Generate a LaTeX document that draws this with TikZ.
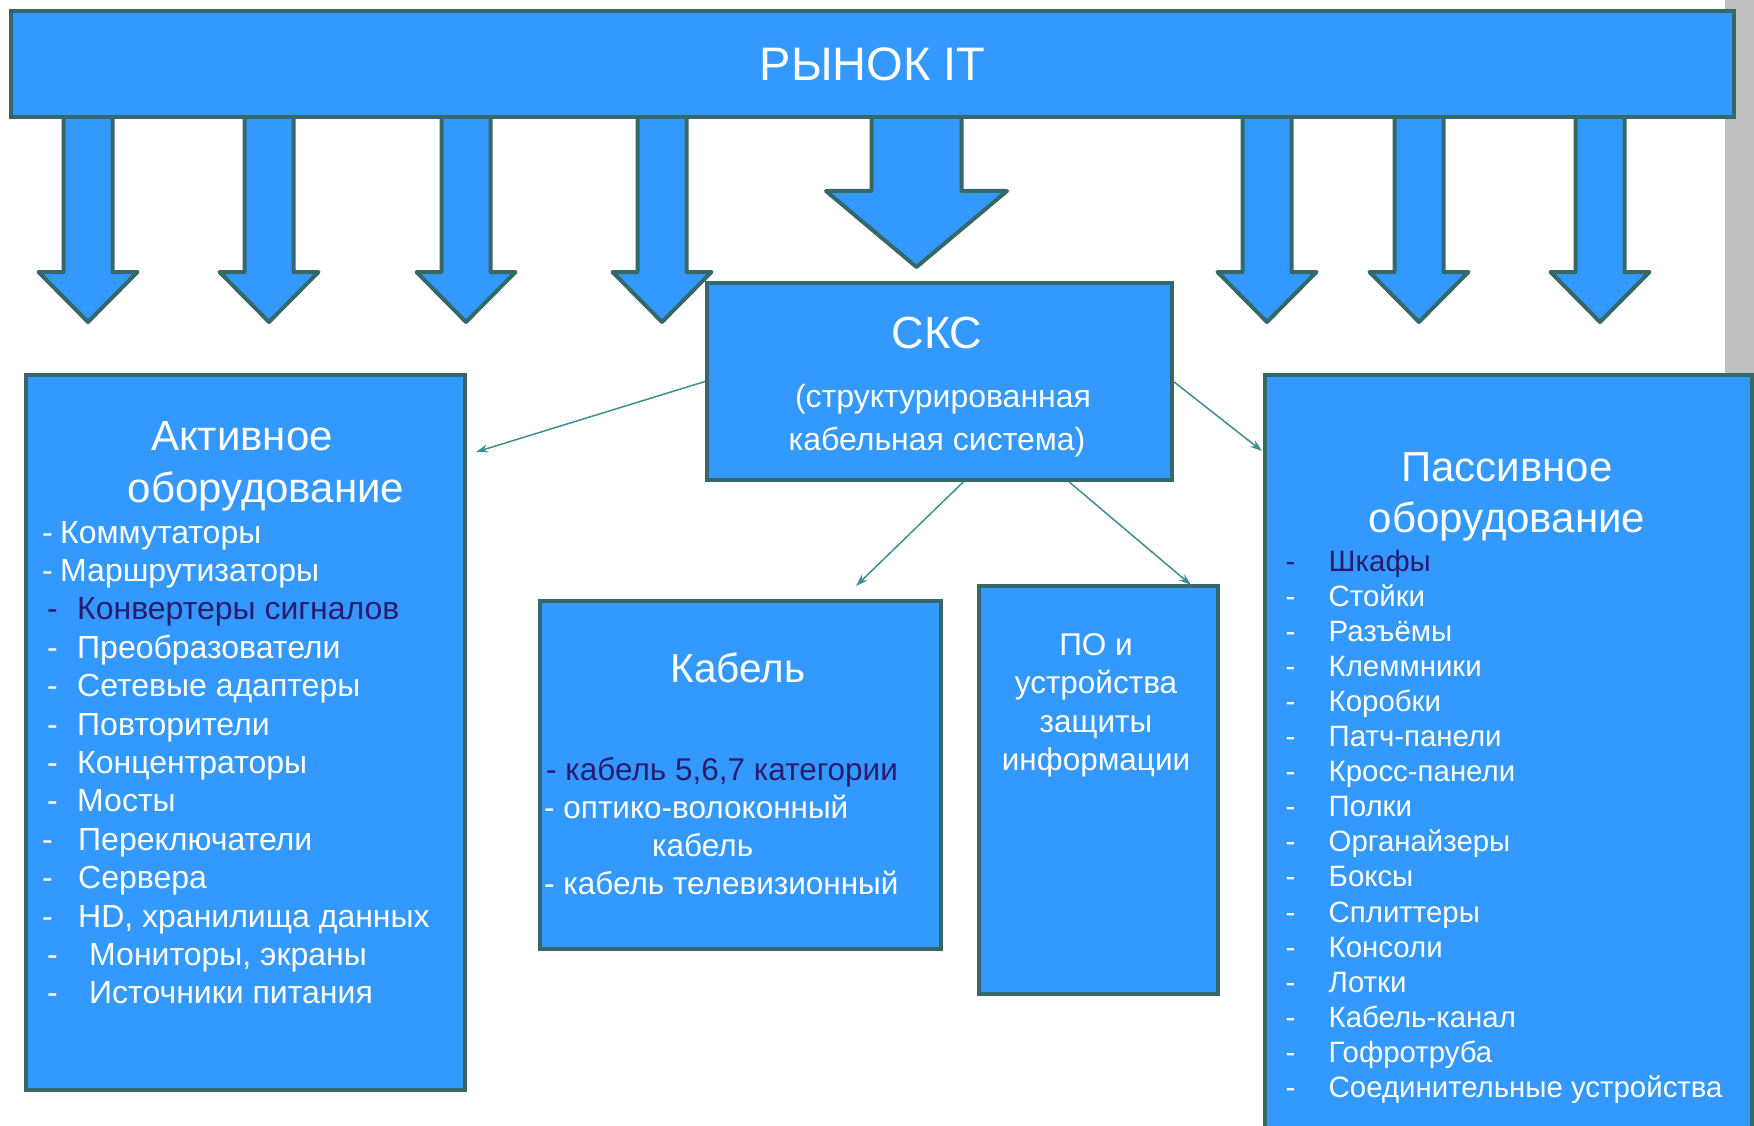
\documentclass[tikz,border=0pt]{standalone}
\usepackage{fontspec}
\setmainfont{Liberation Sans}
\usetikzlibrary{positioning, arrows.meta, calc}
\definecolor{boxfill}{HTML}{3399FF}
\definecolor{boxline}{HTML}{356868}
\definecolor{navy}{HTML}{2A1B6E}
\definecolor{linkc}{HTML}{3F8E8E}
\definecolor{strip}{HTML}{C0C0C0}

\begin{document}
\begin{tikzpicture}[
  x=1pt, y=-1pt,
  every node/.style={text=white, inner sep=0pt},
  block/.style={draw=boxline, fill=boxfill, line width=4pt, rectangle, anchor=north west},
  downarrow/.style={draw=boxline, fill=boxfill, line width=4pt, line join=round},
  item/.style={anchor=base west, font=\fontsize{32}{38}\selectfont},
  pitem/.style={anchor=base west, font=\fontsize{29.4}{35}\selectfont},
  citem/.style={anchor=base west, font=\fontsize{31.5}{38}\selectfont},
  heading/.style={anchor=base, font=\fontsize{42}{50}\selectfont},
  link/.style={-{Stealth[length=12pt, width=8pt]}, draw=linkc, line width=1.5pt}
]
  \useasboundingbox (0,0) rectangle (1754,1126);
  \clip (0,0) rectangle (1754,1126);
  \fill[strip] (1725,0) rectangle (1754,1126);

  % block arrows under the banner
  \foreach \cx in {88,269,466,662,1267,1419,1600}
    \draw[downarrow] (\cx-24.5,100) -- (\cx-24.5,272) -- (\cx-49.5,272) -- (\cx,322)
      -- (\cx+49.5,272) -- (\cx+24.5,272) -- (\cx+24.5,100) -- cycle;
  \draw[downarrow] (871.5,100) -- (871.5,191) -- (826,191) -- (916.5,267)
    -- (1007,191) -- (961.5,191) -- (961.5,100) -- cycle;

  \node[block, minimum width=1723pt, minimum height=105.5pt,
    font=\fontsize{47}{56}\selectfont] (market) at (9,9.5) {РЫНОК IT};

  % boxes
  \node[block, minimum width=464.5pt, minimum height=197pt] (sks) at (705,281) {};
  \node[block, minimum width=439pt, minimum height=715pt] (act) at (24,373) {};
  \node[block, minimum width=487pt, minimum height=767pt] (pas) at (1263,373) {};
  \node[block, minimum width=401pt, minimum height=348pt] (cab) at (538,599) {};
  \node[block, minimum width=239pt, minimum height=408pt] (po) at (977,584) {};

  % connectors
  \draw[link] (sks.west) -- ($(act.north east)+(9,79)$);
  \draw[link] (sks.east) -- ($(pas.north west)+(-1,78)$);
  \draw[link] ($(sks.south)+(24,0)$) -- ($(cab.north west)+(318,-13)$);
  \draw[link] ($(sks.south)+(130,0)$) -- ($(po.north west)+(214,1)$);

  % СКС
  \node[anchor=base, font=\fontsize{45}{54}\selectfont] (skst) at (937,348) {СКС};
  \node[anchor=base, font=\fontsize{32}{38}\selectfont] (sks1) at (943,407) {(структурированная};
  \node[anchor=base, font=\fontsize{32}{38}\selectfont] (sks2) at (937,450) {кабельная система)};

  % active equipment
  \node[heading] (acth1) at (242,450) {Активное};
  \node[heading] (acth2) at (266,502) {оборудование};
  \foreach \dx/\tx/\clr/\lbl [count=\i] in {
      42/60/white/Коммутаторы,
      42/60/white/Маршрутизаторы,
      47/77/navy/Конвертеры сигналов,
      47/77/white/Преобразователи,
      47/77/white/Сетевые адаптеры,
      47/77/white/Повторители,
      47/77/white/Концентраторы,
      47/77/white/Мосты,
      42/78/white/Переключатели,
      42/78/white/Сервера,
      42/78/white/{HD, хранилища данных},
      47/89/white/{Мониторы, экраны},
      47/89/white/Источники питания} {
    \node[item, text=\clr] (actd\i) at (\dx,{543+38.4*(\i-1)}) {-};
    \node[item, text=\clr] (acti\i) at (\tx,{543+38.4*(\i-1)}) {\lbl};
  }

  % passive equipment
  \node[heading] (pash1) at (1507,481) {Пассивное};
  \node[heading] (pash2) at (1507,532) {оборудование};
  \foreach \clr/\lbl [count=\i] in {
      navy/Шкафы, white/Стойки, white/Разъёмы, white/Клеммники,
      white/Коробки, white/Патч-панели, white/Кросс-панели, white/Полки,
      white/Органайзеры, white/Боксы, white/Сплиттеры, white/Консоли,
      white/Лотки, white/Кабель-канал, white/Гофротруба,
      white/Соединительные устройства} {
    \node[pitem, text=\clr] (pasd\i) at (1285.5,{571+35.1*(\i-1)}) {-};
    \node[pitem, text=\clr] (pasi\i) at (1328.5,{571+35.1*(\i-1)}) {\lbl};
  }

  % cable
  \node[anchor=base, font=\fontsize{40.5}{48}\selectfont] (cabt) at (738,682) {Кабель};
  \node[citem, text=navy] (cab1) at (546,780) {- кабель 5,6,7 категории};
  \node[citem] (cab2) at (544,818) {- оптико-волоконный};
  \node[citem] (cab3) at (652,856) {кабель};
  \node[citem] (cab4) at (544,894) {- кабель телевизионный};

  % software and protection
  \foreach \lbl [count=\i] in {ПО и, устройства, защиты, информации}
    \node[anchor=base, font=\fontsize{31.5}{38}\selectfont] (pot\i) at (1096,{655+38.5*(\i-1)}) {\lbl};
\end{tikzpicture}
\end{document}
